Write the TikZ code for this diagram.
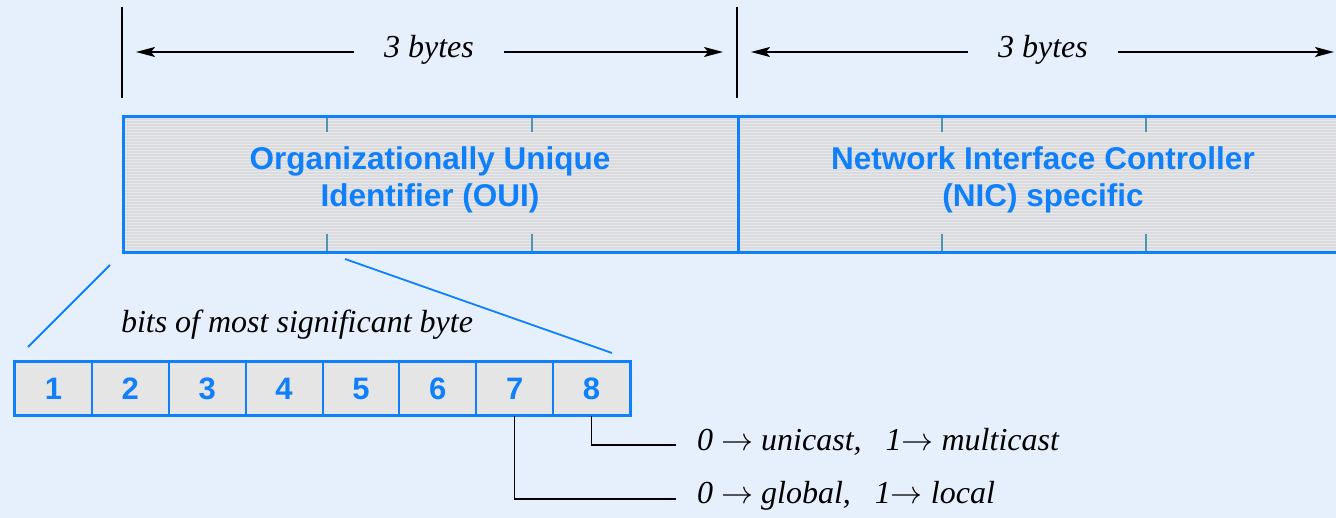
\RequirePackage{fix-cm}
\documentclass[tikz,border=0pt]{standalone}
\usepackage{fontspec}
\setmainfont{Liberation Serif}
\setsansfont{Liberation Sans}
\usetikzlibrary{arrows.meta}
\definecolor{bg}{RGB}{230,240,252}
\definecolor{mblue}{RGB}{16,128,250}
\definecolor{tickc}{RGB}{80,150,175}
\definecolor{boxgray}{RGB}{218,219,222}
\definecolor{stripe}{RGB}{232,232,234}
\definecolor{bitgray}{RGB}{229,229,230}
\tikzset{
  dimtext/.style={font=\fontsize{32}{36}\selectfont\itshape, inner xsep=30pt},
  fieldtext/.style={font=\fontsize{31.5}{37}\selectfont\sffamily\bfseries, text=mblue, align=center},
  bitbox/.style={draw=mblue, line width=2pt, fill=bitgray, minimum width=76.9pt, minimum height=53pt, inner sep=0pt, font=\fontsize{31}{32}\selectfont\sffamily\bfseries, text=mblue},
  dimarrow/.style={-{Stealth[length=19pt,width=10pt,inset=4pt]}, line width=1.5pt},
  zoomline/.style={draw=mblue, line width=1.8pt},
  lbl/.style={font=\fontsize{32}{36}\selectfont\itshape, anchor=west, inner sep=0pt},
  bitlead/.style={line width=1.3pt},
}
\begin{document}
\begin{tikzpicture}[x=1pt,y=-1pt]
\fill[bg] (0,0) rectangle (1336,518);
\useasboundingbox (0,0) rectangle (1336,518);
\clip (0,0) rectangle (1336,518);
% field boxes
\fill[boxgray] (122,115) rectangle (1345,251);
\foreach \yy in {117,120,...,249} \draw[stripe, line width=0.8pt] (122,\yy) -- (1345,\yy);
\foreach \xx in {327,532,942,1146} {
  \draw[tickc, line width=1.5pt] (\xx,115) -- (\xx,132);
  \draw[tickc, line width=1.5pt] (\xx,234) -- (\xx,251);
}
\node[draw=mblue, line width=3pt, minimum width=615pt, minimum height=136pt, inner sep=0pt, anchor=north west] (oui) at (122,115) {};
\node[draw=mblue, line width=3pt, minimum width=640pt, minimum height=136pt, inner sep=0pt, anchor=north west] (nic) at (737,115) {};
\node[fieldtext] (ouit) at (430,180) {Organizationally Unique\\Identifier (OUI)};
\node[fieldtext] (nict) at (1043,180) {Network Interface Controller\\(NIC) specific};
% dimension lines
\coordinate (v1a) at (122,7); \coordinate (v1b) at (122,98);
\coordinate (v2a) at (737,7); \coordinate (v2b) at (737,98);
\draw[line width=1.5pt] (v1a) -- (v1b);
\draw[line width=1.5pt] (v2a) -- (v2b);
\node[dimtext] (d1) at (429,50) {3 bytes};
\node[dimtext] (d2) at (1043,50) {3 bytes};
\coordinate (d1l) at (136,52); \coordinate (d1r) at (723,52);
\coordinate (d2l) at (751,52); \coordinate (d2r) at (1334,52);
\draw[dimarrow] (d1.west |- d1l) -- (d1l);
\draw[dimarrow] (d1.east |- d1r) -- (d1r);
\draw[dimarrow] (d2.west |- d2l) -- (d2l);
\draw[dimarrow] (d2.east |- d2r) -- (d2r);
% zoom lines
\coordinate (z1a) at (110,265); \coordinate (z1b) at (28,347);
\coordinate (z2a) at (345,259); \coordinate (z2b) at (612,353);
\draw[zoomline] (z1a) -- (z1b);
\draw[zoomline] (z2a) -- (z2b);
\node[font=\fontsize{32}{36}\selectfont\itshape] (bits) at (297,325) {bits of most significant byte};
% bit boxes
\foreach \i in {1,...,8} {
  \node[bitbox, anchor=north west] (b\i) at ({14+(\i-1)*76.875},361) {\i};
}
\draw[mblue, line width=2.5pt] (b1.north west) rectangle (b8.south east);
% leads
\coordinate (e8) at (676,445);
\coordinate (e7) at (676,499);
\draw[bitlead] (b8.south) |- (e8);
\draw[bitlead] (b7.south) |- (e7);
\node[lbl] (l8) at (697,442) {0 $\rightarrow$ unicast,\hspace{24pt}1$\rightarrow$ multicast};
\node[lbl] (l7) at (697,496) {0 $\rightarrow$ global,\hspace{24pt}1$\rightarrow$ local};
\end{tikzpicture}
\end{document}
